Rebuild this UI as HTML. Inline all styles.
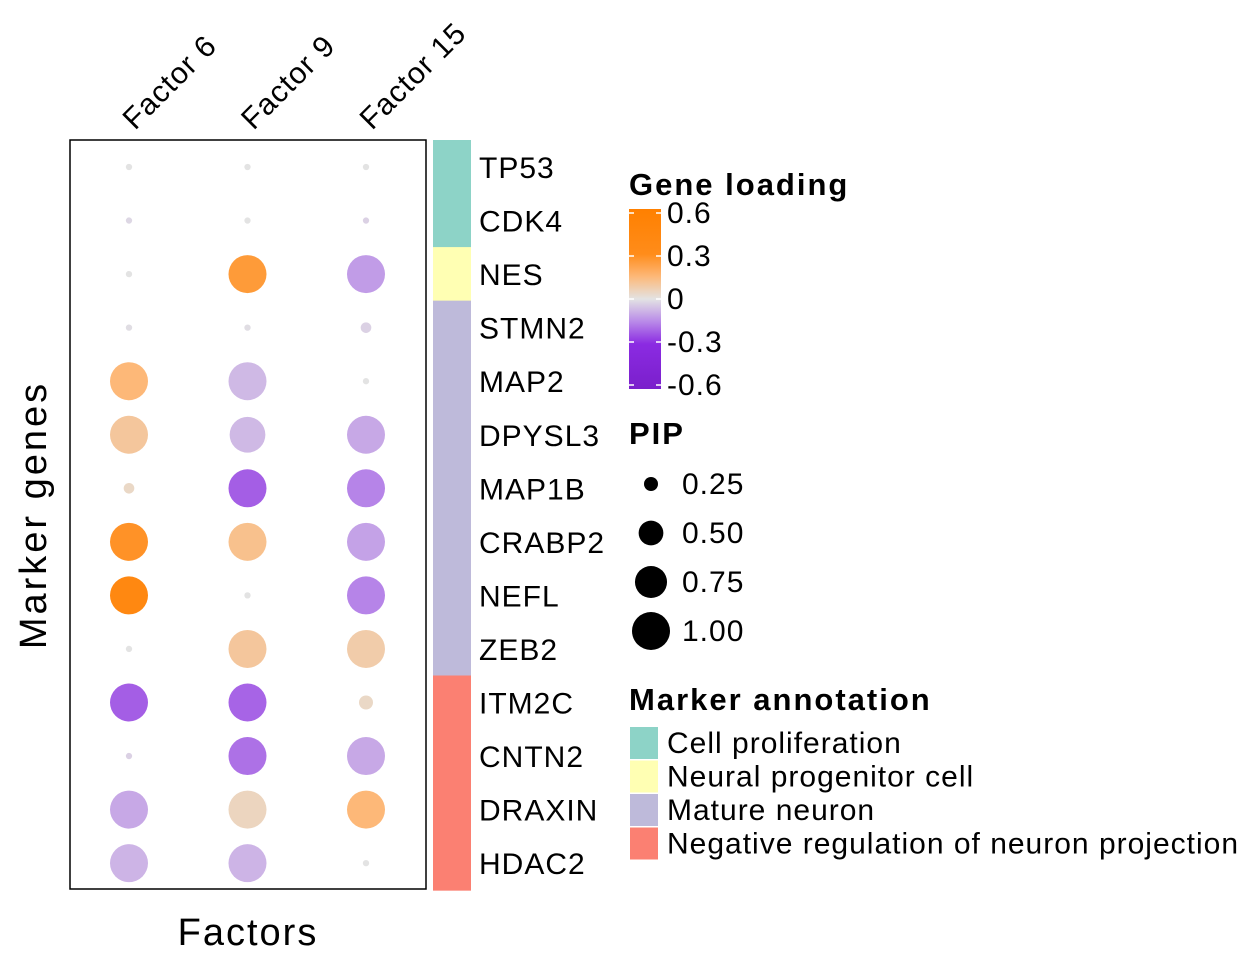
<!DOCTYPE html>
<html><head><meta charset="utf-8"><style>
body{margin:0;background:#fff}
svg{display:block;font-family:"Liberation Sans",sans-serif}
svg text{letter-spacing:1px}
svg text.title{letter-spacing:2px}
</style></head><body>
<svg id="chart" width="1248" height="960" viewBox="0 0 1248 960">
<rect x="0" y="0" width="1248" height="960" fill="#fff"/>
<g id="dots"></g>
<rect x="70" y="140" width="356" height="749" fill="none" stroke="#000" stroke-width="1.5"/>
<g id="annot"></g>
<g id="rowlabels"></g>
<g id="collabels"></g>
<text class="title" x="248" y="945" font-size="38" text-anchor="middle">Factors</text>
<text class="title" transform="translate(46,515) rotate(-90)" font-size="38" text-anchor="middle" style="letter-spacing:3px">Marker genes</text>
<g>
<text class="title" x="629" y="195" font-size="31" font-weight="bold">Gene loading</text>
<defs><linearGradient id="cg" x1="0" y1="1" x2="0" y2="0">
<stop offset="0" stop-color="#7A1FCB"/><stop offset="0.25" stop-color="#8B2BE2"/><stop offset="0.375" stop-color="#B98AE8"/><stop offset="0.5" stop-color="#E3E3E3"/><stop offset="0.625" stop-color="#FDB878"/><stop offset="0.75" stop-color="#FF8C1A"/><stop offset="1" stop-color="#FF8000"/></linearGradient></defs>
<rect x="629" y="209" width="32" height="180" fill="url(#cg)"/>
<g id="cbticks"></g>
</g>
<g>
<text class="title" x="629" y="444" font-size="31" font-weight="bold">PIP</text>
<g id="pipleg"></g>
</g>
<g>
<text class="title" x="629" y="710" font-size="31" font-weight="bold">Marker annotation</text>
<g id="annleg"></g>
</g>
</svg>
<script>
const genes=["TP53","CDK4","NES","STMN2","MAP2","DPYSL3","MAP1B","CRABP2","NEFL","ZEB2","ITM2C","CNTN2","DRAXIN","HDAC2"];
const factors=["Factor 6","Factor 9","Factor 15"];
const loadF6=[0,-0.02,0,-0.01,0.15,0.1,0.04,0.28,0.4,0,-0.22,-0.03,-0.1,-0.08];
const loadF9=[0,0,0.25,-0.01,-0.07,-0.07,-0.22,0.12,0,0.1,-0.21,-0.19,0.05,-0.08];
const loadF15=[0,-0.03,-0.12,-0.03,0,-0.1,-0.16,-0.11,-0.16,0.08,0.04,-0.1,0.15,0];
const pipF6=[0.1,0.1,0.1,0.1,1,1,0.2,1,1,0.1,1,0.1,1,1];
const pipF9=[0.1,0.1,1,0.1,1,0.9,1,1,0.1,1,1,1,1,1];
const pipF15=[0.1,0.1,1,0.2,0.1,1,1,1,1,1,0.25,1,1,0.1];
const groups=["Cell proliferation","Cell proliferation","Neural progenitor cell","Mature neuron","Mature neuron","Mature neuron","Mature neuron","Mature neuron","Mature neuron","Mature neuron","Negative regulation of neuron projection","Negative regulation of neuron projection","Negative regulation of neuron projection","Negative regulation of neuron projection"];
const groupNames=["Cell proliferation","Neural progenitor cell","Mature neuron","Negative regulation of neuron projection"];
const groupColors=["#8DD3C7","#FFFFB3","#BEBADA","#FB8072"];
const pipTicks=[0.25,0.5,0.75,1.0];
const pipTickLabels=["0.25","0.50","0.75","1.00"];
const loadTicks=[0.6,0.3,0,-0.3,-0.6];
const loadTickLabels=["0.6","0.3","0","-0.3","-0.6"];

const NS="http://www.w3.org/2000/svg";
function mk(t,a,p){const e=document.createElementNS(NS,t);for(const k in a)e.setAttribute(k,a[k]);p.appendChild(e);return e;}
const y=i=>167+i*53.55;
const x=j=>129+j*118.5;
const r=p=>Math.sqrt(Math.max(10,-55+416*p));
const stops=[[-0.6,[122,31,203]],[-0.3,[139,43,226]],[-0.15,[185,138,232]],[0,[227,227,227]],[0.15,[253,184,120]],[0.3,[255,140,26]],[0.6,[255,128,0]]];
function col(v){v=Math.max(-0.6,Math.min(0.6,v));for(let k=0;k<stops.length-1;k++){const a=stops[k],b=stops[k+1];if(v<=b[0]){const t=(v-a[0])/(b[0]-a[0]);const c=a[1].map((q,i)=>Math.round(q+(b[1][i]-q)*t));return `rgb(${c})`;}}return "rgb(255,128,0)";}
const loads=[loadF6,loadF9,loadF15],pips=[pipF6,pipF9,pipF15];
const dots=document.getElementById('dots');
for(let j=0;j<3;j++)for(let i=0;i<genes.length;i++){
 const c=mk('circle',{cx:x(j),cy:y(i),r:r(pips[j][i]),fill:col(loads[j][i])},dots);
 
 
}
const annot=document.getElementById('annot'),rl=document.getElementById('rowlabels');
for(let i=0;i<genes.length;i++){
 const rc=mk('rect',{x:433,y:y(i)-27,width:38,height:54.5,fill:groupColors[groupNames.indexOf(groups[i])]},annot);
 
 
 const t=mk('text',{x:479,y:y(i)+11,'font-size':30},rl);t.textContent=genes[i];
 
 
}
const cl=document.getElementById('collabels');
for(let j=0;j<3;j++){
 const t=mk('text',{transform:`translate(${x(j)+6},${131}) rotate(-45)`,'font-size':30},cl);t.textContent=factors[j];
 
 
}
const cb=document.getElementById('cbticks');
loadTicks.forEach((v,k)=>{const yy=299-v/0.6*86;
 mk('line',{x1:629,x2:634,y1:yy,y2:yy,stroke:'#fff','stroke-width':1.5},cb);
 mk('line',{x1:656,x2:661,y1:yy,y2:yy,stroke:'#fff','stroke-width':1.5},cb);
 const t=mk('text',{x:667,y:yy+10,'font-size':30},cb);t.textContent=loadTickLabels[k];
 
 
});
const pl=document.getElementById('pipleg');
pipTicks.forEach((p,k)=>{const yy=484+k*49;
 const c=mk('circle',{cx:651,cy:yy,r:r(p),fill:'#000'},pl);
 
 
 const t=mk('text',{x:682,y:yy+10,'font-size':30},pl);t.textContent=pipTickLabels[k];
 
 
});
const al=document.getElementById('annleg');
groupNames.forEach((g,k)=>{const yy=727+k*33.5;
 const rc=mk('rect',{x:630,y:yy,width:28,height:32,fill:groupColors[k]},al);
 
 
 const t=mk('text',{x:667,y:yy+26,'font-size':30},al);t.textContent=g;
 
 
});
</script>
</body></html>
